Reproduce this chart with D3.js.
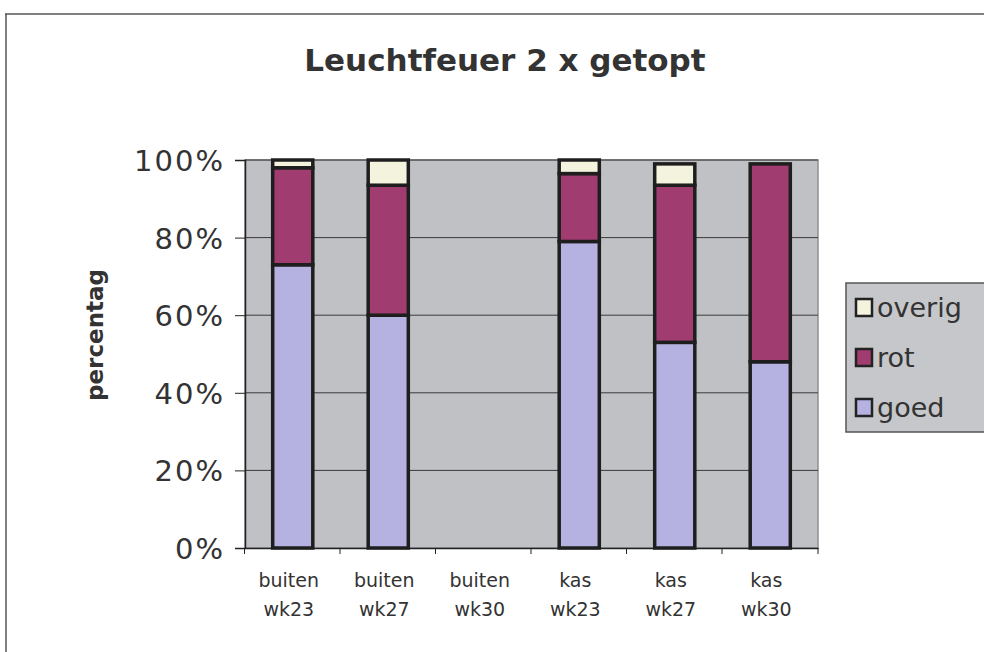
<!DOCTYPE html>
<html>
<head>
<meta charset="utf-8">
<script src="https://cdn.jsdelivr.net/npm/d3@7"></script>
<style>
  body { margin: 0; background: #fff; }
  svg { display: block; font-family: "DejaVu Sans", Verdana, sans-serif; }
</style>
</head>
<body>
<div id="chart"></div>
<script>
// data
const categories = ["buiten wk23", "buiten wk27", "buiten wk30", "kas wk23", "kas wk27", "kas wk30"];
const goed   = [73, 60, 0, 79, 53, 48];
const rot    = [25, 33.5, 0, 17.5, 40.5, 51];
const overig = [2, 6.5, 0, 3.5, 5.5, 0];
const seriesNames = ["goed", "rot", "overig"];
const yTicks = [0, 20, 40, 60, 80, 100];

const W = 984, H = 652;
const plot = {left: 245, right: 818, top: 160, bottom: 548};
const colors = {goed: "#b5b2e2", rot: "#a03c70", overig: "#f4f3dd"};

const svg = d3.select("#chart").append("svg")
  .attr("width", W).attr("height", H);

// outer frame (top + left only, as in the scan)
svg.append("line").attr("x1", 5).attr("x2", W).attr("y1", 14).attr("y2", 14)
  .attr("stroke", "#555").attr("stroke-width", 1.5);
svg.append("line").attr("x1", 6).attr("x2", 6).attr("y1", 14).attr("y2", H)
  .attr("stroke", "#555").attr("stroke-width", 1.5);

// title
svg.append("text")
  .attr("x", 505).attr("y", 71)
  .attr("text-anchor", "middle")
  .style("font-size", "31px").style("font-weight", "bold").style("fill", "#333")
  .text("Leuchtfeuer 2 x getopt");

const x = d3.scaleBand().domain(categories).range([plot.left, plot.right]).paddingInner(0.58).paddingOuter(0.29);
const y = d3.scaleLinear().domain([0, 100]).range([plot.bottom, plot.top]);

// plot background
svg.append("rect")
  .attr("x", plot.left).attr("y", plot.top)
  .attr("width", plot.right - plot.left).attr("height", plot.bottom - plot.top)
  .attr("fill", "#c0c1c5").attr("stroke", "#8f8f95").attr("stroke-width", 1.5);

// gridlines
svg.append("g").selectAll("line").data(yTicks.filter(d => d > 0)).join("line")
  .attr("x1", plot.left).attr("x2", plot.right)
  .attr("y1", d => y(d)).attr("y2", d => y(d))
  .attr("stroke", "#3a3a3a").attr("stroke-width", 1);

// y axis
const yAxis = svg.append("g")
  .attr("transform", `translate(${plot.left},0)`)
  .call(d3.axisLeft(y).tickValues(yTicks).tickFormat(d => d + "%").tickSize(10).tickPadding(10));
yAxis.select(".domain").attr("stroke", "#222").attr("stroke-width", 1.5);
yAxis.selectAll(".tick line").attr("stroke", "#222");
yAxis.selectAll("text").style("font-size", "29px").style("fill", "#333")
  .style("letter-spacing", "2px").attr("dy", "0.36em")
  .style("font-family", "'DejaVu Sans', Verdana, sans-serif");

// x axis
const xAxis = svg.append("g")
  .attr("transform", `translate(0,${plot.bottom})`)
  .call(d3.axisBottom(x).tickSize(0).tickFormat(""));
xAxis.select(".domain").attr("stroke", "#222").attr("stroke-width", 1.5);
const bounds = categories.map(c => x(c) - x.step() * x.paddingInner() / 2 - 0.5).concat([plot.right]);
xAxis.selectAll(".bnd").data(bounds).join("line").attr("class", "bnd")
  .attr("x1", d => d).attr("x2", d => d).attr("y1", 0).attr("y2", 6)
  .attr("stroke", "#222");

// category labels (two lines)
const lbl = svg.append("g").selectAll("text").data(categories).join("text")
  .attr("text-anchor", "middle")
  .style("font-size", "19px").style("fill", "#333");
lbl.append("tspan").attr("x", d => x(d) + x.bandwidth() / 2 - 4).attr("y", 587).text(d => d.split(" ")[0]);
lbl.append("tspan").attr("x", d => x(d) + x.bandwidth() / 2 - 4).attr("y", 616).text(d => d.split(" ")[1]);

// stacked bars
const table = categories.map((c, i) => ({cat: c, goed: goed[i], rot: rot[i], overig: overig[i]}));
const stack = d3.stack().keys(seriesNames)(table);
svg.append("g").selectAll("g").data(stack).join("g")
  .attr("fill", d => colors[d.key])
  .selectAll("rect").data(d => d.filter(p => p[1] - p[0] > 0)).join("rect")
  .attr("x", d => x(d.data.cat))
  .attr("width", x.bandwidth())
  .attr("y", d => y(d[1]))
  .attr("height", d => y(d[0]) - y(d[1]))
  .attr("stroke", "#1e1e1e").attr("stroke-width", 3.5);

// y title, clipped like the scan
svg.append("clipPath").attr("id", "ytclip")
  .append("rect").attr("x", 60).attr("y", 268).attr("width", 60).attr("height", 200);
svg.append("g").attr("clip-path", "url(#ytclip)")
  .append("text")
  .attr("transform", "translate(103,401) rotate(-90)")
  .style("font-size", "23px").style("font-weight", "bold").style("fill", "#333")
  .text("percentage");

// legend
const lg = svg.append("g");
lg.append("rect").attr("x", 846).attr("y", 283).attr("width", 150).attr("height", 149)
  .attr("fill", "#c6c7ca").attr("stroke", "#555").attr("stroke-width", 1.5);
const legendItems = ["overig", "rot", "goed"];
const li = lg.selectAll("g.item").data(legendItems).join("g").attr("class", "item")
  .attr("transform", (d, i) => `translate(856,${299 + i * 50})`);
li.append("rect").attr("width", 16).attr("height", 17)
  .attr("fill", d => colors[d]).attr("stroke", "#222").attr("stroke-width", 2.5);
li.append("text").attr("x", 21).attr("y", 18)
  .style("font-size", "27px").style("fill", "#333").text(d => d);
</script>
</body>
</html>
